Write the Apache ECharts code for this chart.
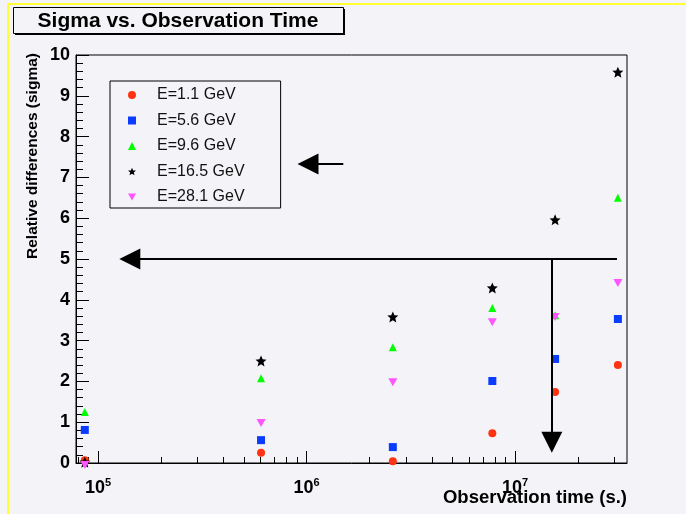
<!DOCTYPE html>
<html>
<head>
<meta charset="utf-8">
<script src="https://cdn.jsdelivr.net/npm/echarts@6/dist/echarts.min.js"></script>
<style>
html,body{margin:0;padding:0;background:#f4f3f7;}
#c{width:686px;height:514px;}
</style>
</head>
<body>
<div id="c"></div>
<script>
// ---- data ----
const times = [86400, 604800, 2592000, 7776000, 15552000, 31104000];
const seriesNames = ['E=1.1 GeV', 'E=5.6 GeV', 'E=9.6 GeV', 'E=16.5 GeV', 'E=28.1 GeV'];
const e11  = [0.07, 0.25, 0.04, 0.73, 1.74, 2.40];
const e56  = [0.81, 0.56, 0.39, 2.01, 2.55, 3.53];
const e96  = [1.25, 2.08, 2.84, 3.80, 3.62, 6.50];
const e165 = [0.02, 2.50, 3.58, 4.29, 5.96, 9.58];
const e281 = [-0.05, 0.98, 1.98, 3.45, 3.58, 4.41];
const yTicks = [0,1,2,3,4,5,6,7,8,9,10];
const xMajorTicks = [1e5, 1e6, 1e7];
const xMinorTicks = [8e4, 9e4, 2e5, 3e5, 4e5, 5e5, 6e5, 7e5, 8e5, 9e5,
                     2e6, 3e6, 4e6, 5e6, 6e6, 7e6, 8e6, 9e6, 2e7, 3e7];
// annotation arrows: [from, to] in data coordinates
const arrowH = [[3.08e7, 5], [1.42e5, 5]];
const arrowV = [[1.5e7, 5], [1.5e7, 0.51]];
const arrowS = [[1.5e6, 7.33], [1.016e6, 7.33]];

const colors = ['#ff3311', '#0a3cff', '#00ff00', '#000000', '#ff55ff'];
const starPath = 'path://M0,-10 L2.9,-3.6 L9.8,-3.1 L4.4,1.4 L6.2,8.3 L0,4.6 L-6.2,8.3 L-4.4,1.4 L-9.8,-3.1 L-2.9,-3.6 Z';
const invTriPath = 'path://M0,0 L10,0 L5,9 Z';
const symbols = ['circle', 'rect', 'triangle', starPath, invTriPath];
const symbolSizes = [8, 8, 8, 11, [9, 8]];
const values = [e11, e56, e96, e165, e281];

const FONT = '"Liberation Sans", Arial, Helvetica, sans-serif';

function pairs(arr) { return times.map((t, i) => [t, arr[i]]); }
function arrowLine(a) { return [{coord: a[0]}, {coord: a[1]}]; }

const series = values.map((v, i) => ({
  name: seriesNames[i],
  type: 'scatter',
  xAxisIndex: 0,
  yAxisIndex: 0,
  data: pairs(v),
  symbol: symbols[i],
  symbolSize: symbolSizes[i],
  clip: false,
  itemStyle: {color: colors[i], opacity: 1},
  z: 3
}));

series[0].markLine = {
  silent: true,
  symbol: ['none', 'triangle'],
  symbolSize: [21, 21],
  label: {show: false},
  lineStyle: {color: '#000', width: 2, type: 'solid'},
  itemStyle: {color: '#000'},
  emphasis: {disabled: true},
  animation: false,
  data: [arrowLine(arrowH), arrowLine(arrowV), arrowLine(arrowS)]
};

const chart = echarts.init(document.getElementById('c'), null, {renderer: 'canvas'});
chart.setOption({
  animation: false,
  backgroundColor: '#f4f3f7',
  grid: {left: 76, right: 59, top: 55, bottom: 51, show: true, borderColor: '#000', borderWidth: 1, backgroundColor: 'transparent'},
  legend: {
    orient: 'vertical',
    left: 110, top: 81,
    padding: [6, 36, 3, 18],
    itemGap: 9.5,
    itemWidth: 8, itemHeight: 8,
    symbolKeepAspect: true,
    borderColor: '#000', borderWidth: 1,
    backgroundColor: '#f4f3f7',
    textStyle: {fontFamily: FONT, fontSize: 16, color: '#111', padding: [0, 0, 0, 16]},
    data: seriesNames.map((n, i) => ({name: n, icon: symbols[i]}))
  },
  xAxis: [{
    type: 'log', logBase: 10,
    min: 7.84e4, max: 3.44e7,
    position: 'bottom',
    axisLine: {show: true, lineStyle: {color: '#000', width: 1}},
    splitLine: {show: false},
    axisTick: {show: true, inside: true, length: 12, customValues: xMajorTicks, lineStyle: {color: '#000'}},
    axisLabel: {
      show: true, margin: 14, customValues: xMajorTicks,
      formatter: function (v) { return '{b|10}{s|' + Math.round(Math.log10(v)) + '}'; },
      rich: {
        b: {fontFamily: FONT, fontWeight: 'bold', fontSize: 18, color: '#000'},
        s: {fontFamily: FONT, fontWeight: 'bold', fontSize: 11, color: '#000', padding: [0, 0, 11, 0]}
      }
    }
  }, {
    type: 'log', logBase: 10,
    min: 7.84e4, max: 3.44e7,
    position: 'bottom',
    axisLine: {show: false},
    splitLine: {show: false},
    axisTick: {show: true, inside: true, length: 6, customValues: xMinorTicks, lineStyle: {color: '#000'}},
    axisLabel: {show: false}
  }],
  yAxis: {
    type: 'value', min: 0, max: 10, interval: 1,
    axisLine: {show: true, lineStyle: {color: '#000', width: 1}},
    splitLine: {show: false},
    axisTick: {show: true, inside: true, length: 13, lineStyle: {color: '#000'}},
    minorTick: {show: true, splitNumber: 5, length: 7, lineStyle: {color: '#000'}},
    axisLabel: {
      margin: 6, fontFamily: FONT, fontWeight: 'bold', fontSize: 18, color: '#000',
      customValues: yTicks
    }
  },
  graphic: [
    {type: 'rect', silent: true, z: -1, shape: {x: 7, y: 3, width: 700, height: 2}, style: {fill: '#ffff33'}},
    {type: 'rect', silent: true, z: -1, shape: {x: 7, y: 3, width: 2, height: 520}, style: {fill: '#ffff33'}},
    {type: 'rect', silent: true, shape: {x: 15, y: 9, width: 330, height: 26}, style: {fill: '#000'}},
    {type: 'rect', silent: true, shape: {x: 13.5, y: 7.5, width: 330, height: 26}, style: {fill: '#f4f3f7', stroke: '#000', lineWidth: 1}},
    {type: 'text', silent: true, x: 178, y: 21, style: {text: 'Sigma vs. Observation Time', font: 'bold 21px ' + FONT, fill: '#000', align: 'center', verticalAlign: 'middle'}},
    {type: 'text', silent: true, x: 33, y: 156, rotation: Math.PI / 2, style: {text: 'Relative differences (sigma)', font: 'bold 15.5px ' + FONT, fill: '#000', align: 'center', verticalAlign: 'middle'}},
    {type: 'text', silent: true, x: 627, y: 498, style: {text: 'Observation time (s.)', font: 'bold 18.5px ' + FONT, fill: '#000', align: 'right', verticalAlign: 'middle'}}
  ],
  series: series
});
</script>
</body>
</html>
